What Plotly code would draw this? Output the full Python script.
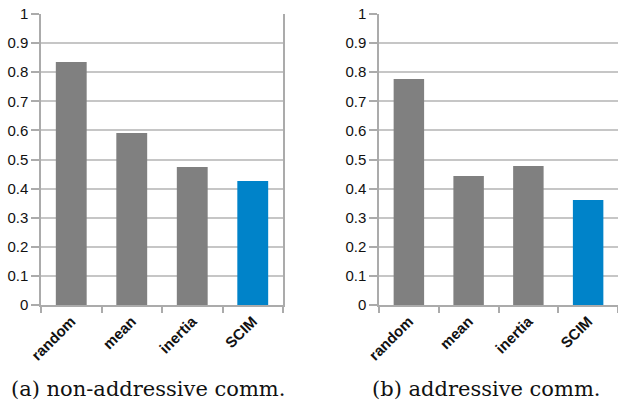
import plotly.graph_objects as go

categories = ["random", "mean", "inertia", "SCIM"]
non_addressive = [0.835, 0.591, 0.474, 0.426]
addressive = [0.777, 0.443, 0.478, 0.361]
bar_colors = ["#808080", "#808080", "#808080", "#0083C9"]
captions = ["(a) non-addressive comm.", "(b) addressive comm."]
y_ticks = [0, 0.1, 0.2, 0.3, 0.4, 0.5, 0.6, 0.7, 0.8, 0.9, 1]

W, H = 618, 407


def px_x(x):
    return x / W


def px_y(y):
    return 1 - y / H


fig = go.Figure()
fig.add_trace(go.Bar(x=categories, y=non_addressive, marker_color=bar_colors,
                     marker_line_width=0, xaxis="x", yaxis="y", showlegend=False))
fig.add_trace(go.Bar(x=categories, y=addressive, marker_color=bar_colors,
                     marker_line_width=0, xaxis="x2", yaxis="y2", showlegend=False))

ydom = [px_y(305), px_y(14)]
axis_col = "#ABABAB"
grid_col = "#C6C6C6"

xcommon = dict(type="category", showline=True, linecolor=axis_col, linewidth=1.5,
               ticks="outside", tickson="boundaries", ticklen=6, tickcolor=axis_col,
               tickwidth=1.5, tickangle=-45, showgrid=False, automargin=False,
               ticklabeloverflow="allow",
               tickfont=dict(family="Liberation Sans", size=15, color="#111111",
                             weight="bold"))
ycommon = dict(range=[0, 1], tickvals=y_ticks, showline=True, linecolor=axis_col,
               linewidth=1.5, mirror=True, ticks="outside", ticklen=8,
               tickcolor=axis_col, tickwidth=1.5, showgrid=True, gridcolor=grid_col,
               gridwidth=1.5, zeroline=False, automargin=False,
               ticklabeloverflow="allow",
               tickfont=dict(family="Liberation Sans", size=15, color="#111111"))

fig.update_layout(
    width=W, height=H,
    margin=dict(l=0, r=0, t=0, b=0),
    paper_bgcolor="white", plot_bgcolor="white",
    bargap=0.49,
    hovermode=False,
    xaxis=dict(domain=[px_x(41), px_x(283)], anchor="y", **xcommon),
    yaxis=dict(domain=ydom, anchor="x", **ycommon),
    xaxis2=dict(domain=[px_x(379), 1.0], anchor="y2", **xcommon),
    yaxis2=dict(domain=ydom, anchor="x2", **ycommon),
)

fig.add_annotation(text=captions[0], x=px_x(148), y=px_y(389), xref="paper", yref="paper",
                   showarrow=False, xanchor="center", yanchor="middle",
                   font=dict(family="DejaVu Serif", size=21, color="#111111"))
fig.add_annotation(text=captions[1], x=px_x(486), y=px_y(389), xref="paper", yref="paper",
                   showarrow=False, xanchor="center", yanchor="middle",
                   font=dict(family="DejaVu Serif", size=21, color="#111111"))

# remove the default 8px page margin so the figure fills the window exactly
fig.write_html("out.html", config={"displayModeBar": False},
               post_script="document.body.style.margin='0';document.body.style.overflow='hidden';")
